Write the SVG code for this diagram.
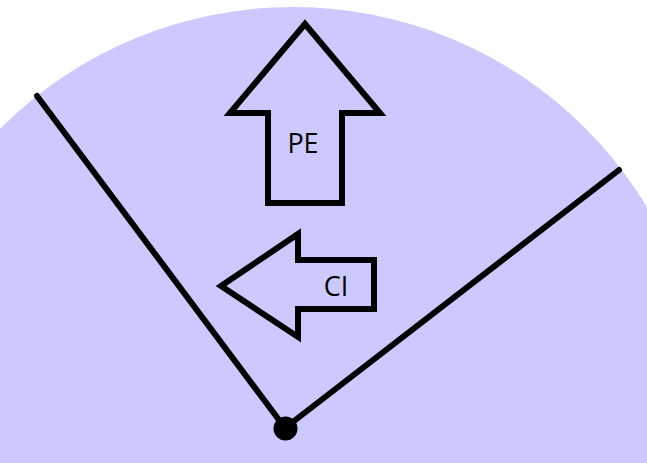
<svg xmlns="http://www.w3.org/2000/svg" width="647" height="463" viewBox="0 0 647 463">
<style>
.ln{stroke:#000;stroke-width:6;fill:none;stroke-linecap:round;stroke-linejoin:round}
.ar{stroke:#000;stroke-width:6;fill:none;stroke-linejoin:miter}
.lb{font-family:"Open Sans","Noto Sans",sans-serif;font-size:27px;fill:#000;text-anchor:middle}
</style>
<rect width="647" height="463" fill="#fff"/>
<circle id="field" cx="293" cy="420" r="413" fill="#ccc9ff"/>
<g id="connectors">
<line class="ln" x1="37" y1="96" x2="285" y2="428"/>
<line class="ln" x1="619" y1="170" x2="285" y2="428"/>
</g>
<g id="vertex"><circle cx="285.5" cy="428.5" r="12" fill="#000"/></g>
<g id="pe">
<polygon class="ar" points="305,24 380,113 342,113 342,203 268,203 268,113 230,113"/>
<text class="lb" x="303" y="153">PE</text>
</g>
<g id="ci">
<polygon class="ar" points="221,286 298,234 298,260 374,260 374,309 298,309 298,337"/>
<text class="lb" x="336" y="296">CI</text>
</g>
</svg>
